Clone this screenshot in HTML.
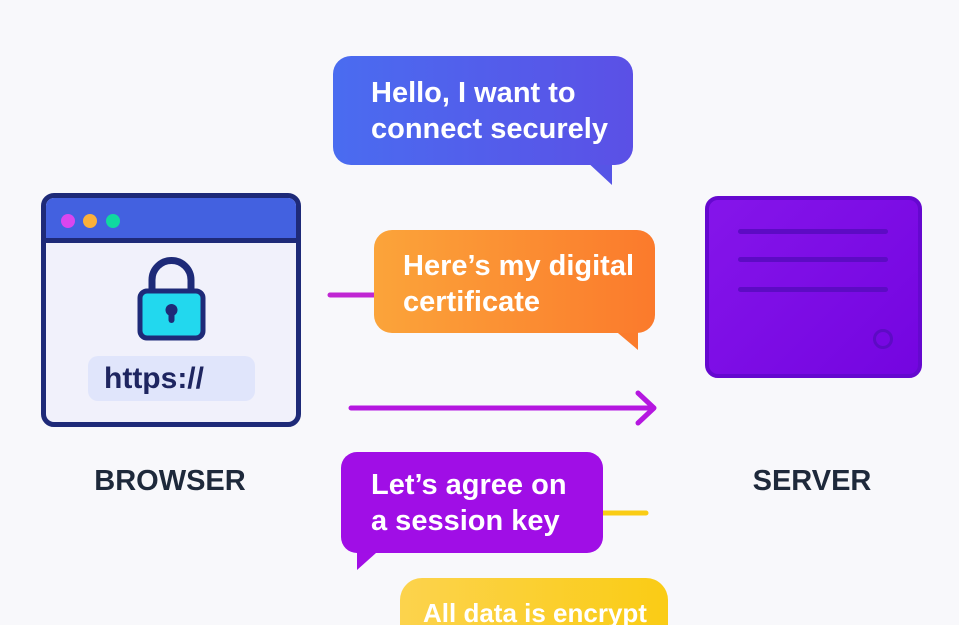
<!DOCTYPE html>
<html style="overflow:hidden;width:959px;height:625px"><head><style>
body{margin:0;width:959px;height:625px;overflow:hidden;background:#f8f8fb;font-family:"Liberation Sans",sans-serif;position:relative}
.a{position:absolute}
.bub{position:absolute;color:#fff;font-size:29px;font-weight:bold;line-height:36px;box-sizing:border-box;white-space:nowrap}
</style></head><body>
<div class="a" style="left:41px;top:193px;width:260px;height:234px;box-sizing:border-box;border:5px solid #1e2a78;border-radius:13px;background:#f1f1fb;overflow:hidden">
 <div class="a" style="left:0;top:0;width:100%;height:40px;background:#4361e0;border-bottom:5px solid #1e2a78"></div>
 <div class="a" style="left:15px;top:16px;width:14px;height:14px;border-radius:50%;background:#d946ef"></div>
 <div class="a" style="left:37px;top:16px;width:14px;height:14px;border-radius:50%;background:#fbb03b"></div>
 <div class="a" style="left:60px;top:16px;width:14px;height:14px;border-radius:50%;background:#10d9a0"></div>
 <div class="a" style="left:42px;top:158px;width:167px;height:45px;border-radius:10px;background:#e0e5fb"></div>
 <div class="a" style="left:58px;top:163px;font-size:30px;font-weight:bold;color:#1e2560;line-height:36px">https://</div>
</div>
<svg class="a" style="left:127px;top:253px" width="90" height="90">
 <path d="M25 40 V27 a19.5 19.5 0 0 1 39 0 V40" fill="none" stroke="#1e2a78" stroke-width="7"/>
 <rect x="13" y="38" width="63" height="47" rx="7" fill="#22d8ee" stroke="#1e2a78" stroke-width="5"/>
 <circle cx="44.5" cy="57" r="6" fill="#1e2a78"/><rect x="41.5" y="57" width="6" height="13" rx="3" fill="#1e2a78"/>
</svg>
<div class="a" style="left:70px;top:465px;width:200px;text-align:center;font-size:29px;font-weight:bold;color:#1e293b">BROWSER</div>
<div class="a" style="left:712px;top:465px;width:200px;text-align:center;font-size:29px;font-weight:bold;color:#1e293b">SERVER</div>
<div class="a" style="left:705px;top:196px;width:217px;height:182px;box-sizing:border-box;border:4px solid #6508cf;border-radius:13px;background:linear-gradient(135deg,#8515ea,#7405e0)">
 <div class="a" style="left:29px;top:29px;width:150px;height:5px;border-radius:3px;background:#5d0bc4"></div>
 <div class="a" style="left:29px;top:57px;width:150px;height:5px;border-radius:3px;background:#5d0bc4"></div>
 <div class="a" style="left:29px;top:87px;width:150px;height:5px;border-radius:3px;background:#5d0bc4"></div>
 <div class="a" style="left:164px;top:129px;width:14px;height:14px;border-radius:50%;border:3px solid #5d0bc4"></div>
</div>
<svg class="a" style="left:0;top:0" width="959" height="625">
 <path d="M585 160 L612 185 L612 160 Z" fill="#5655e6"/>
 <path d="M612 328 L638 350 L638 328 Z" fill="#fb7c2c"/>
 <path d="M357 545 L357 570 L385 545 Z" fill="#a10ee6"/>
 <line x1="330" y1="295" x2="376" y2="295" stroke="#c026d3" stroke-width="5" stroke-linecap="round"/>
 <line x1="600" y1="513" x2="646" y2="513" stroke="#facc15" stroke-width="5" stroke-linecap="round"/>
 <line x1="351" y1="408" x2="651" y2="408" stroke="#b517e0" stroke-width="5" stroke-linecap="round"/>
 <path d="M638 393 L654 408 L638 423" fill="none" stroke="#b517e0" stroke-width="5" stroke-linecap="round" stroke-linejoin="round"/>
</svg>
<div class="bub" style="left:333px;top:56px;width:300px;height:109px;border-radius:18px;background:linear-gradient(90deg,#4a6cf0,#5b50e6);padding:19px 0 0 38px">Hello, I want to<br>connect securely</div>
<div class="bub" style="left:374px;top:230px;width:281px;height:103px;border-radius:18px;background:linear-gradient(90deg,#fba43a,#fb7a2c);padding:18px 0 0 29px">Here’s my digital<br>certificate</div>
<div class="bub" style="left:341px;top:452px;width:262px;height:101px;border-radius:16px;background:#a00ee6;padding:15px 0 0 30px">Let’s agree on<br>a session key</div>
<div class="bub" style="left:400px;top:578px;width:268px;height:47px;border-radius:22px 22px 0 0;background:linear-gradient(90deg,#fcd34d,#facc15);padding:17px 0 0 23px;overflow:hidden;font-size:26px">All data is encrypt</div>
</body></html>
